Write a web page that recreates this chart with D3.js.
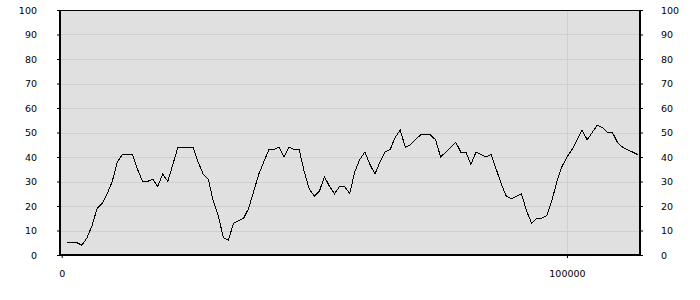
<!DOCTYPE html>
<html>
<head>
<meta charset="utf-8">
<script src="https://cdn.jsdelivr.net/npm/d3@7"></script>
<style>
  html, body { margin: 0; padding: 0; background: #ffffff; }
  svg { display: block; }
  text { font-family: "DejaVu Sans", sans-serif; font-size: 9.5px; fill: #000; }
</style>
</head>
<body>
<svg id="chart" width="700" height="300"></svg>
<script>
// ---- data ----
const sampleStep = 1000;          // x spacing between samples
const values = [5,5,5,4,7,12,19,21,25,30,38,41,41,41,35,30,30,31,28,33,30,37,44,44,44,44,38,33,31,22,16,7,6,13,14,15,19,26,33,38,43,43,44,40,44,43,43,34,27,24,26,32,28,25,28,28,25,34,39,42,37,33,38,42,43,48,51,44,45,47,49,49,49,47,40,42,44,46,42,42,37,42,41,40,41,35,29,24,23,24,25,18,13,15,15,16,22,30,36,40,43,47,51,47,50,53,52,50,50,46,44,43,42,41];
const xPositions = values.map((v, i) => (i + 1) * sampleStep);
const yTicks = [0,10,20,30,40,50,60,70,80,90,100];
const xTicks = [0, 100000];

// ---- layout ----
const svg = d3.select("#chart");
const L = 60, R = 640, T = 10, B = 255;

const x = d3.scaleLinear().domain([-340, 114460]).range([L, R]);
const y = d3.scaleLinear().domain([0, 100]).range([B, T]);

// plot background
svg.append("rect").attr("x", L).attr("y", T).attr("width", R - L).attr("height", B - T)
  .attr("fill", "#e0e0e0");

// horizontal grid
svg.append("g").selectAll("line").data(yTicks.filter(d => d > 0 && d < 100)).join("line")
  .attr("x1", L).attr("x2", R).attr("y1", d => Math.round(y(d)) + 0.5).attr("y2", d => Math.round(y(d)) + 0.5)
  .attr("stroke", "#cfcfcf").attr("stroke-width", 1).attr("shape-rendering", "crispEdges");

// vertical grid
svg.append("g").selectAll("line").data(xTicks.filter(d => d > 0)).join("line")
  .attr("x1", d => Math.round(x(d)) + 0.5).attr("x2", d => Math.round(x(d)) + 0.5).attr("y1", T).attr("y2", B)
  .attr("stroke", "#cfcfcf").attr("stroke-width", 1).attr("shape-rendering", "crispEdges");

// data line
const line = d3.line().x((d, i) => x(xPositions[i])).y(d => y(d));
svg.append("path").datum(values).attr("d", line)
  .attr("fill", "none").attr("stroke", "#000").attr("stroke-width", 1)
  .attr("stroke-linejoin", "miter").attr("shape-rendering", "crispEdges");

// frame
svg.append("line").attr("x1", L).attr("x2", R).attr("y1", T + 0.5).attr("y2", T + 0.5)
  .attr("stroke", "#000").attr("stroke-width", 1).attr("shape-rendering", "crispEdges");

// axes
const leftAxis = d3.axisLeft(y).tickValues(yTicks).tickSize(3).tickPadding(20).tickFormat(d3.format("d"));
const rightAxis = d3.axisRight(y).tickValues(yTicks).tickSize(3).tickPadding(18).tickFormat(d3.format("d"));
const bottomAxis = d3.axisBottom(x).tickValues(xTicks).tickSize(3).tickPadding(12).tickFormat(d3.format("d"));

function styleAxis(g) {
  g.select(".domain").attr("stroke", "#000").attr("stroke-width", 2);
  g.selectAll(".tick line").attr("stroke", "#000").attr("stroke-width", 1);
  g.selectAll("text").attr("fill", "#000").style("font-family", "'DejaVu Sans', sans-serif").style("font-size", "9.5px");
  g.attr("font-family", null).attr("font-size", null);
}

svg.append("g").attr("transform", `translate(${L},0)`).call(leftAxis)
  .call(g => g.select(".domain").attr("d", `M0,${T}V${B}`)).call(styleAxis);
svg.append("g").attr("transform", `translate(${R},0)`).call(rightAxis)
  .call(g => g.select(".domain").attr("d", `M0,${T}V${B}`)).call(styleAxis);
svg.append("g").attr("transform", `translate(0,${B})`).call(bottomAxis)
  .call(g => g.select(".domain").attr("d", `M${L},0H${R}`)).call(styleAxis);
</script>
</body>
</html>
